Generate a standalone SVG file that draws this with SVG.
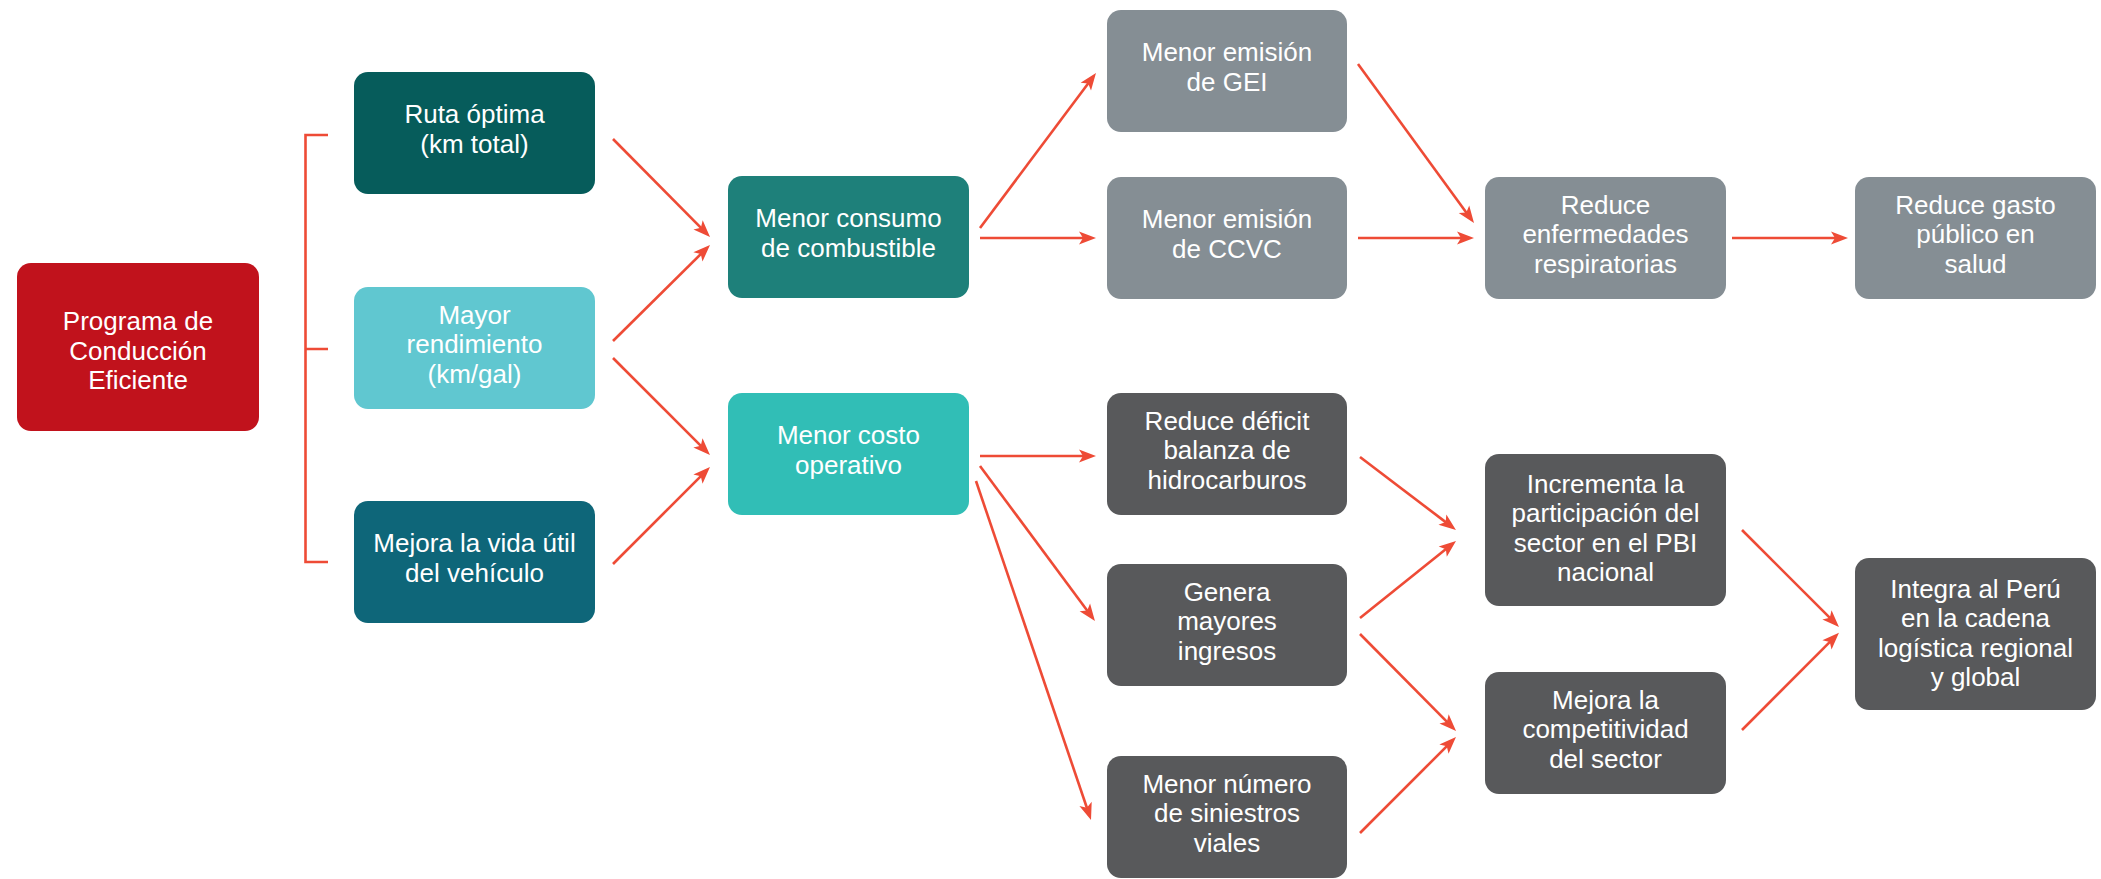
<svg xmlns="http://www.w3.org/2000/svg" width="2101" height="879" viewBox="0 0 2101 879">
  <style>
    .box { stroke: none; }
    .lbl { font-family: "Liberation Sans", Arial, sans-serif; font-size: 26px; fill: #ffffff; text-anchor: middle; }
    .red { fill: #C1121C; }
    .teal-dark { fill: #065C5B; }
    .cyan { fill: #60C7D0; }
    .petrol { fill: #0E6679; }
    .teal { fill: #1E807A; }
    .aqua { fill: #31BEB6; }
    .grey { fill: #858E94; }
    .dark { fill: #58595B; }
    .conn line, .conn path { stroke: #EE4B36; stroke-width: 2.6; fill: none; }
  </style>
  <defs>
    <marker id="head" viewBox="-8 -7 19 14" refX="0" refY="0" markerWidth="19" markerHeight="14" markerUnits="userSpaceOnUse" orient="auto">
      <path d="M10,0 L-7,-6.5 L-3,0 L-7,6.5 Z" fill="#EE4B36"/>
    </marker>
  </defs>

  <!-- connectors -->
  <g id="connectors" class="conn">
    <!-- bracket from the programme to its three levers -->
    <path d="M328,135 H305.5 V562 H328 M305.5,349 H328"/>
    <line x1="613" y1="139" x2="703" y2="229.9" marker-end="url(#head)"/>
    <line x1="613" y1="341" x2="702.9" y2="252" marker-end="url(#head)"/>
    <line x1="613" y1="358" x2="702.9" y2="447.9" marker-end="url(#head)"/>
    <line x1="613" y1="564" x2="702.9" y2="474.1" marker-end="url(#head)"/>
    <line x1="980" y1="228" x2="1090" y2="81" marker-end="url(#head)"/>
    <line x1="980" y1="238" x2="1086" y2="238" marker-end="url(#head)"/>
    <line x1="1358" y1="64" x2="1468.1" y2="214.9" marker-end="url(#head)"/>
    <line x1="1358" y1="238" x2="1464" y2="238" marker-end="url(#head)"/>
    <line x1="1732" y1="238" x2="1838" y2="238" marker-end="url(#head)"/>
    <line x1="980" y1="456" x2="1086" y2="456" marker-end="url(#head)"/>
    <line x1="980" y1="466" x2="1089" y2="613" marker-end="url(#head)"/>
    <line x1="976" y1="481" x2="1087.8" y2="810.5" marker-end="url(#head)"/>
    <line x1="1360" y1="457" x2="1448" y2="523.9" marker-end="url(#head)"/>
    <line x1="1360" y1="618" x2="1448.2" y2="547.3" marker-end="url(#head)"/>
    <line x1="1360" y1="634" x2="1449" y2="723.9" marker-end="url(#head)"/>
    <line x1="1360" y1="833" x2="1448.9" y2="744.1" marker-end="url(#head)"/>
    <line x1="1742" y1="530" x2="1831.9" y2="619.9" marker-end="url(#head)"/>
    <line x1="1742" y1="730" x2="1831.9" y2="639.9" marker-end="url(#head)"/>
  </g>

  <g id="programa">
    <rect class="box red" x="17" y="263" width="242" height="168" rx="14"/>
    <text class="lbl" x="138" y="330">Programa de</text>
    <text class="lbl" x="138" y="359.5">Conducción</text>
    <text class="lbl" x="138" y="389">Eficiente</text>
  </g>

  <g id="ruta">
    <rect class="box teal-dark" x="354" y="72" width="241" height="122" rx="14"/>
    <text class="lbl" x="474.5" y="123">Ruta óptima</text>
    <text class="lbl" x="474.5" y="152.5">(km total)</text>
  </g>

  <g id="rendimiento">
    <rect class="box cyan" x="354" y="287" width="241" height="122" rx="14"/>
    <text class="lbl" x="474.5" y="323.5">Mayor</text>
    <text class="lbl" x="474.5" y="353">rendimiento</text>
    <text class="lbl" x="474.5" y="382.5">(km/gal)</text>
  </g>

  <g id="vida-util">
    <rect class="box petrol" x="354" y="501" width="241" height="122" rx="14"/>
    <text class="lbl" x="474.5" y="552">Mejora la vida útil</text>
    <text class="lbl" x="474.5" y="581.5">del vehículo</text>
  </g>

  <g id="consumo">
    <rect class="box teal" x="728" y="176" width="241" height="122" rx="14"/>
    <text class="lbl" x="848.5" y="227">Menor consumo</text>
    <text class="lbl" x="848.5" y="256.5">de combustible</text>
  </g>

  <g id="costo">
    <rect class="box aqua" x="728" y="393" width="241" height="122" rx="14"/>
    <text class="lbl" x="848.5" y="444">Menor costo</text>
    <text class="lbl" x="848.5" y="473.5">operativo</text>
  </g>

  <g id="gei">
    <rect class="box grey" x="1107" y="10" width="240" height="122" rx="14"/>
    <text class="lbl" x="1227" y="61">Menor emisión</text>
    <text class="lbl" x="1227" y="90.5">de GEI</text>
  </g>

  <g id="ccvc">
    <rect class="box grey" x="1107" y="177" width="240" height="122" rx="14"/>
    <text class="lbl" x="1227" y="228">Menor emisión</text>
    <text class="lbl" x="1227" y="257.5">de CCVC</text>
  </g>

  <g id="deficit">
    <rect class="box dark" x="1107" y="393" width="240" height="122" rx="14"/>
    <text class="lbl" x="1227" y="429.5">Reduce déficit</text>
    <text class="lbl" x="1227" y="459">balanza de</text>
    <text class="lbl" x="1227" y="488.5">hidrocarburos</text>
  </g>

  <g id="ingresos">
    <rect class="box dark" x="1107" y="564" width="240" height="122" rx="14"/>
    <text class="lbl" x="1227" y="600.5">Genera</text>
    <text class="lbl" x="1227" y="630">mayores</text>
    <text class="lbl" x="1227" y="659.5">ingresos</text>
  </g>

  <g id="siniestros">
    <rect class="box dark" x="1107" y="756" width="240" height="122" rx="14"/>
    <text class="lbl" x="1227" y="792.5">Menor número</text>
    <text class="lbl" x="1227" y="822">de siniestros</text>
    <text class="lbl" x="1227" y="851.5">viales</text>
  </g>

  <g id="enfermedades">
    <rect class="box grey" x="1485" y="177" width="241" height="122" rx="14"/>
    <text class="lbl" x="1605.5" y="213.5">Reduce</text>
    <text class="lbl" x="1605.5" y="243">enfermedades</text>
    <text class="lbl" x="1605.5" y="272.5">respiratorias</text>
  </g>

  <g id="gasto">
    <rect class="box grey" x="1855" y="177" width="241" height="122" rx="14"/>
    <text class="lbl" x="1975.5" y="213.5">Reduce gasto</text>
    <text class="lbl" x="1975.5" y="243">público en</text>
    <text class="lbl" x="1975.5" y="272.5">salud</text>
  </g>

  <g id="pbi">
    <rect class="box dark" x="1485" y="454" width="241" height="152" rx="14"/>
    <text class="lbl" x="1605.5" y="492.5">Incrementa la</text>
    <text class="lbl" x="1605.5" y="522">participación del</text>
    <text class="lbl" x="1605.5" y="551.5">sector en el PBI</text>
    <text class="lbl" x="1605.5" y="581">nacional</text>
  </g>

  <g id="competitividad">
    <rect class="box dark" x="1485" y="672" width="241" height="122" rx="14"/>
    <text class="lbl" x="1605.5" y="708.5">Mejora la</text>
    <text class="lbl" x="1605.5" y="738">competitividad</text>
    <text class="lbl" x="1605.5" y="767.5">del sector</text>
  </g>

  <g id="integra">
    <rect class="box dark" x="1855" y="558" width="241" height="152" rx="14"/>
    <text class="lbl" x="1975.5" y="597.5">Integra al Perú</text>
    <text class="lbl" x="1975.5" y="627">en la cadena</text>
    <text class="lbl" x="1975.5" y="656.5">logística regional</text>
    <text class="lbl" x="1975.5" y="686">y global</text>
  </g>
</svg>
